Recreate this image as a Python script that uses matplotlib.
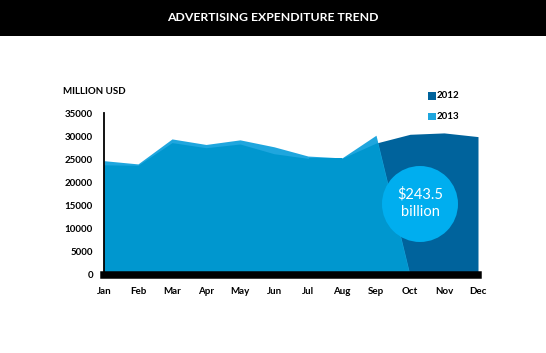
import numpy as np
import matplotlib
matplotlib.use("Agg")
import matplotlib.pyplot as plt
import matplotlib.patches as mpatches
from matplotlib.path import Path

months = ["Jan", "Feb", "Mar", "Apr", "May", "Jun", "Jul", "Aug", "Sep", "Oct", "Nov", "Dec"]
v2012 = [23800, 23700, 28600, 27500, 28300, 26200, 25200, 25200, 28500, 30400, 30700, 29900]
v2013 = [24700, 24000, 29400, 28200, 29200, 27700, 25700, 25300, 30200, 0]
yticks = [0, 5000, 10000, 15000, 20000, 25000, 30000, 35000]
title = "ADVERTISING EXPENDITURE TREND"
unit_label = "MILLION USD"
total_label = "\\$243.5\nbillion"

dark = "#00639c"
light = "#1fa6de"
medium = "#0097cf"
circle_c = "#00aeef"

plt.rcParams['font.family'] = ['Lato', 'DejaVu Sans']

W, H = 546, 353
fig = plt.figure(figsize=(W / 100, H / 100), dpi=100)
fig.patch.set_facecolor("white")

# title bar
fig.add_artist(mpatches.Rectangle((0, 1 - 36 / H), 1, 36 / H, transform=fig.transFigure,
                                  facecolor="black", edgecolor="none"))
fig.text(0.5, 1 - 17.5 / H, title, color="white", ha="center", va="center",
         fontsize=8.8, fontweight="bold")

ax = fig.add_axes([104 / W, 1 - 275 / H, 374 / W, 162 / H])
x = np.arange(len(months))
x13 = np.arange(len(v2013))

ax.fill_between(x, 0, v2012, color=dark, lw=0, zorder=1)
ax.fill_between(x13, 0, v2013, color=light, lw=0, zorder=2)
verts13 = [(x13[0], 0)] + list(zip(x13, v2013)) + [(x13[-1], 0), (x13[0], 0)]
med = ax.fill_between(x, 0, v2012, color=medium, lw=0, zorder=3)
med.set_clip_path(Path(verts13), ax.transData)

ax.set_xlim(0, len(months) - 1)
ax.set_ylim(0, 35000)
ax.set_xticks(x)
ax.set_xticklabels(months)
ax.set_yticks(yticks)
ax.set_yticklabels([str(t) for t in yticks])
ax.tick_params(axis="both", length=0, labelsize=7)
ax.tick_params(axis="y", pad=8)
ax.tick_params(axis="x", pad=9)
for lab in ax.get_xticklabels() + ax.get_yticklabels():
    lab.set_fontweight("bold")
for s in ["top", "right", "bottom"]:
    ax.spines[s].set_visible(False)
ax.spines["left"].set_linewidth(1.3)
ax.spines["left"].set_zorder(6)
ax.patch.set_alpha(0)

# thick baseline band
ax.axhline(0, color="black", lw=5.4, zorder=5, clip_on=False)

# unit label
fig.text(63 / W, 1 - 92 / H, unit_label, fontsize=7, fontweight="bold", ha="left", va="center")

# legend
for yc, col, lab in [(96, dark, "2012"), (116.5, light, "2013")]:
    fig.add_artist(mpatches.Rectangle((428 / W, 1 - (yc + 3.7) / H), 7.5 / W, 7.5 / H,
                                      transform=fig.transFigure, facecolor=col, edgecolor="none"))
    fig.text(437 / W, 1 - yc / H, lab, fontsize=7, fontweight="bold", ha="left", va="center")

# circle annotation
cx, cy, r = 420, 204, 38
fig.add_artist(mpatches.Ellipse((cx / W, 1 - cy / H), 2 * r / W, 2 * r / H,
                                transform=fig.transFigure, facecolor=circle_c,
                                edgecolor="none", zorder=10))
fig.text(cx / W, 1 - (cy - 1) / H, total_label, color="white", fontsize=10.5,
         ha="center", va="center", linespacing=1.25, zorder=11)

fig.savefig("out.png", dpi=100)
